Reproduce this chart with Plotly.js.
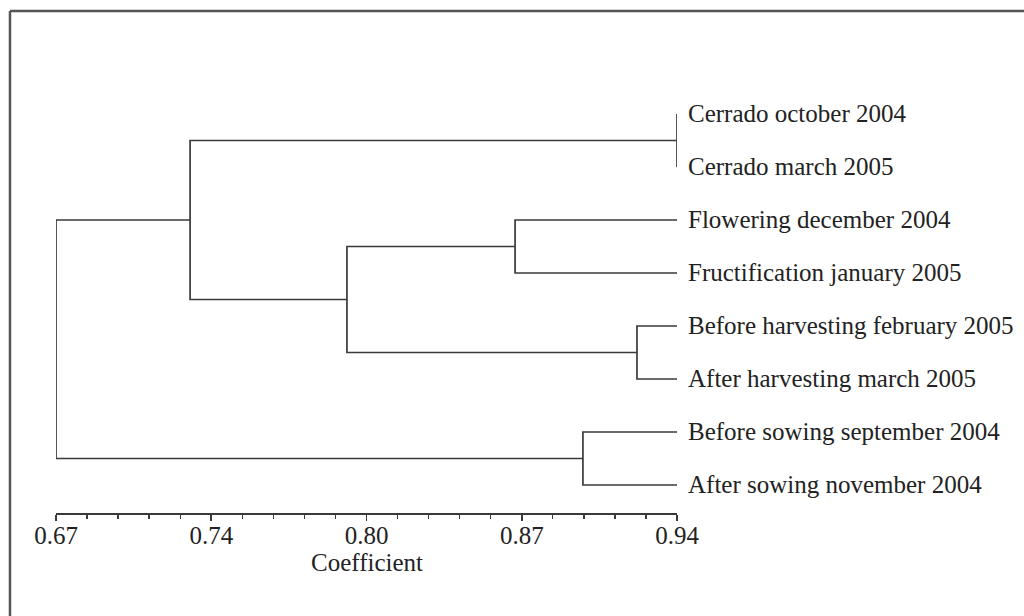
<!DOCTYPE html>
<html>
<head>
<meta charset="utf-8">
<script src="https://cdn.plot.ly/plotly-3.0.1.min.js"></script>
<style>
html,body{margin:0;padding:0;background:#fff;}
#chart{width:1024px;height:616px;}
</style>
</head>
<body>
<div id="chart"></div>
<script>
// Leaves (top to bottom)
const leafLabels = [
  "Cerrado october 2004",
  "Cerrado march 2005",
  "Flowering december 2004",
  "Fructification january 2005",
  "Before harvesting february 2005",
  "After harvesting march 2005",
  "Before sowing september 2004",
  "After sowing november 2004"
];
// Coefficient at which leaves start
const leafCoefficient = 0.94;
// Merges: cluster ids 0..7 are leaves, merge k creates cluster 8+k
const mergeLeft  = [0, 2, 4, 6, 9, 8, 13];
const mergeRight = [1, 3, 5, 7, 10, 12, 11];
const mergeCoefficient = [0.94, 0.8696, 0.9226, 0.8991, 0.7965, 0.7283, 0.67];
// Axis ticks
const tickValues = [0.67, 0.7375, 0.805, 0.8725, 0.94];
const tickLabels = ["0.67", "0.74", "0.80", "0.87", "0.94"];
const axisTitle = "Coefficient";

// Build dendrogram segments
const nodeX = [], nodeY = [];
leafLabels.forEach((l, i) => { nodeX[i] = leafCoefficient; nodeY[i] = i; });
const xs = [], ys = [];
mergeLeft.forEach((a, k) => {
  const b = mergeRight[k], h = mergeCoefficient[k], id = leafLabels.length + k;
  xs.push(nodeX[a], h, h, nodeX[b], null);
  ys.push(nodeY[a], nodeY[a], nodeY[b], nodeY[b], null);
  nodeX[id] = h;
  nodeY[id] = (nodeY[a] + nodeY[b]) / 2;
});

const serif = "Liberation Serif, Times New Roman, serif";
const trace = {
  x: xs, y: ys, type: "scatter", mode: "lines",
  line: {color: "#3a3a3a", width: 1.7},
  hoverinfo: "skip", showlegend: false
};

const annotations = leafLabels.map((t, i) => ({
  x: leafCoefficient, y: i, xref: "x", yref: "y",
  text: t, showarrow: false, xanchor: "left", yanchor: "middle",
  xshift: 9, yshift: 1,
  font: {family: serif, size: 25, color: "#222"}
}));
annotations.push({
  x: 0.5, y: -0.1106, xref: "paper", yref: "paper",
  text: axisTitle, showarrow: false, xanchor: "center", yanchor: "middle",
  font: {family: serif, size: 25, color: "#222"}
});

const frame = {color: "#555", width: 2.5};
const layout = {
  width: 1024, height: 616,
  margin: {l: 56, r: 347, t: 61, b: 103},
  paper_bgcolor: "#fff", plot_bgcolor: "#fff",
  showlegend: false,
  xaxis: {
    range: [0.67, 0.94], autorange: false,
    showgrid: false, zeroline: false,
    showline: true, linecolor: "#3a3a3a", linewidth: 1.7,
    ticks: "outside", ticklen: 6, tickwidth: 1.6, tickcolor: "#3a3a3a",
    tickvals: tickValues, ticktext: tickLabels,
    tickfont: {family: serif, size: 25, color: "#222"},
    ticklabelstandoff: -7,
    minor: {tick0: 0.67, dtick: 0.0135, ticks: "outside", ticklen: 4, tickwidth: 1.4, tickcolor: "#3a3a3a", showgrid: false}
  },
  yaxis: {
    range: [7.528, -1], autorange: false,
    showgrid: false, zeroline: false, showline: false,
    showticklabels: false, ticks: ""
  },
  annotations: annotations,
  shapes: [
    {type: "line", xref: "paper", yref: "paper", x0: -0.0741, x1: 1.6, y0: 1.1106, y1: 1.1106, line: frame},
    {type: "line", xref: "paper", yref: "paper", x0: -0.0741, x1: -0.0741, y0: 1.1106, y1: -0.3, line: frame}
  ]
};

Plotly.newPlot("chart", [trace], layout, {staticPlot: true, displayModeBar: false});
</script>
</body>
</html>
